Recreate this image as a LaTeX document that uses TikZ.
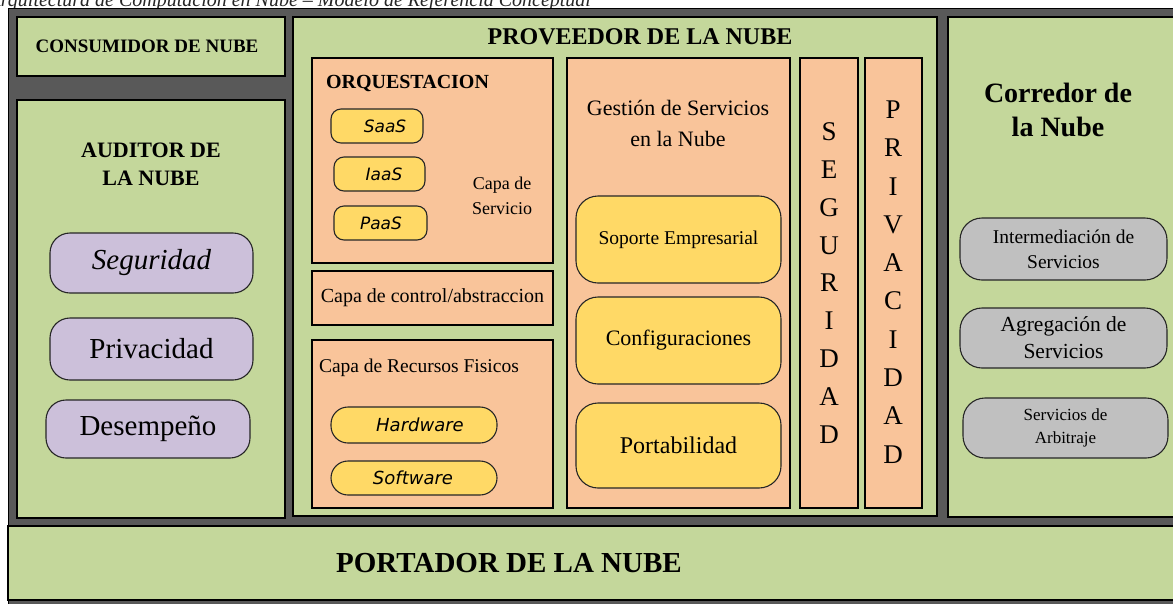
\documentclass[tikz,border=0pt]{standalone}
\usepackage{fontspec}
\setmainfont{Liberation Serif}
\newfontfamily\verd{DejaVu Sans}
\newcommand\fsz[2]{\fontsize{#1pt}{#2pt}\selectfont}
\definecolor{frame}{HTML}{595959}
\definecolor{grn}{HTML}{C4D79B}
\definecolor{sal}{HTML}{F9C49A}
\definecolor{yel}{HTML}{FFD966}
\definecolor{pur}{HTML}{CCC0DA}
\definecolor{gry}{HTML}{C0C0C0}
\tikzset{
  base/.style={inner sep=0pt, outer sep=0pt, anchor=north west},
  panel/.style={base, draw=black, line width=1.4pt, fill=grn},
  layer/.style={base, draw=black, line width=1.2pt, fill=sal},
  pill/.style={base, draw=black!85, line width=1.1pt, rounded corners=#1},
  pill/.default=20pt,
  lbl/.style={inner sep=0pt, outer sep=0pt, align=center}
}
% name, style, x1, y1, x2, y2, text
\newcommand\bx[7]{\node[#2, minimum width={#5pt-#3pt}, minimum height={#6pt-#4pt}, align=center] (#1) at (#3,#4) {#7};}
\begin{document}
\begin{tikzpicture}[x=1pt, y=-1pt]
\useasboundingbox (0,0) rectangle (1173,603);
\clip (0,0) rectangle (1173,603);
\fill[white] (0,0) rectangle (1173,603);
% title (cut at top, as in the reference)
\node[lbl, font=\fsz{20}{24}\itshape, anchor=base east, text=black!85] (title) at (591,6.5)
  {Arquitectura de Computación en Nube – Modelo de Referencia Conceptual};
% dark frame
\fill[frame] (8,8) rectangle (1180,605);
\draw[black, line width=1pt] (8,8) -- (1180,8);
\draw[black, line width=1pt] (8,8) -- (8,605);
% consumer
\bx{cons}{panel}{17}{17}{285}{76}{}
\node[lbl, font=\fsz{19}{23}\bfseries] (tcons) at (147,46) {CONSUMIDOR DE NUBE};
% auditor
\bx{aud}{panel}{17}{100}{285}{518}{}
\node[lbl, font=\fsz{22}{28}\bfseries] (taud) at (151,164) {AUDITOR DE\\LA NUBE};
\bx{aseg}{pill={20pt}, fill=pur, font=\fsz{29}{34}\itshape}{50}{233}{253}{293}{Seguridad}
\bx{apriv}{pill={20pt}, fill=pur, font=\fsz{29}{34}}{50}{318}{253}{380}{Privacidad}
\bx{ades}{pill={20pt}, fill=pur, font=\fsz{29}{34}}{46}{400}{250}{458}{Desempeño}
% provider
\bx{prov}{panel}{293}{17}{937}{516}{}
\node[lbl, font=\fsz{24}{28}\bfseries] (tprov) at (640,37) {PROVEEDOR DE LA NUBE};
% orquestacion
\bx{orq}{layer}{312}{58}{553}{263}{}
\node[lbl, font=\fsz{20}{24}\bfseries, anchor=west] (torq) at (326,83) {ORQUESTACION};
\bx{saas}{pill={10pt}, fill=yel}{331}{109}{423}{143}{}
\bx{iaas}{pill={10pt}, fill=yel}{334}{157}{425}{191}{}
\bx{paas}{pill={10pt}, fill=yel}{334}{206}{427}{240}{}
\node[lbl, font=\verd\fsz{17}{20}\itshape] (tsaas) at (385,126) {SaaS};
\node[lbl, font=\verd\fsz{17}{20}\itshape] (tiaas) at (384,174) {IaaS};
\node[lbl, font=\verd\fsz{17}{20}\itshape] (tpaas) at (381,223) {PaaS};
\node[lbl, font=\fsz{18}{25}] (tcapa) at (502,196) {Capa de\\Servicio};
% control
\bx{ctrl}{layer, font=\fsz{20}{24}}{312}{271}{553}{325}{Capa de control/abstraccion}
% recursos
\bx{rec}{layer}{312}{340}{553}{508}{}
\node[lbl, font=\fsz{19.5}{24}, anchor=west] (trec) at (319,368) {Capa de Recursos Fisicos};
\bx{hw}{pill={17pt}, fill=yel}{331}{407}{497}{443}{}
\bx{sw}{pill={17pt}, fill=yel}{331}{461}{497}{495}{}
\node[lbl, font=\verd\fsz{18}{22}\itshape] (thw) at (420,425) {Hardware};
\node[lbl, font=\verd\fsz{18}{22}\itshape] (tsw) at (413,478) {Software};
% gestion
\bx{gest}{layer}{567}{58}{790}{508}{}
\node[lbl, font=\fsz{22}{31}] (tgest) at (678,123) {Gestión de Servicios\\en la Nube};
\bx{sop}{pill={22pt}, fill=yel, font=\fsz{19.5}{24}}{576}{196}{781}{283}{Soporte Empresarial}
\bx{conf}{pill={22pt}, fill=yel, font=\fsz{22}{26}}{576}{297}{781}{384}{Configuraciones}
\bx{port}{pill={22pt}, fill=yel, font=\fsz{24}{28}}{576}{403}{781}{488}{Portabilidad}
% seguridad / privacidad
\bx{seg}{layer}{800}{58}{858}{508}{}
\node[lbl, font=\fsz{27}{37.9}] (tseg) at (829,283) {S\\E\\G\\U\\R\\I\\D\\A\\D};
\bx{priv}{layer}{865}{58}{922}{508}{}
\node[lbl, font=\fsz{27}{38.3}] (tpriv) at (893,282) {P\\R\\I\\V\\A\\C\\I\\D\\A\\D};
% corredor
\bx{corr}{panel}{948}{17}{1185}{517}{}
\node[lbl, font=\fsz{28}{34}\bfseries] (tcorr) at (1058,110) {Corredor de\\la Nube};
\bx{inter}{pill={22pt}, fill=gry, font=\fsz{19.5}{25}}{960}{218}{1167}{280}{Intermediación de\\Servicios}
\bx{agre}{pill={22pt}, fill=gry, font=\fsz{21.5}{27}}{960}{308}{1167}{368}{Agregación de\\Servicios}
\bx{arbi}{pill={22pt}, fill=gry, font=\fsz{17}{23}}{963}{398}{1168}{458}{Servicios de\\Arbitraje}
% portador
\bx{porta}{panel}{8}{526}{1185}{600}{}
\node[lbl, font=\fsz{29}{34}\bfseries] (tporta) at (509,563) {PORTADOR DE LA NUBE};
\end{tikzpicture}
\end{document}
